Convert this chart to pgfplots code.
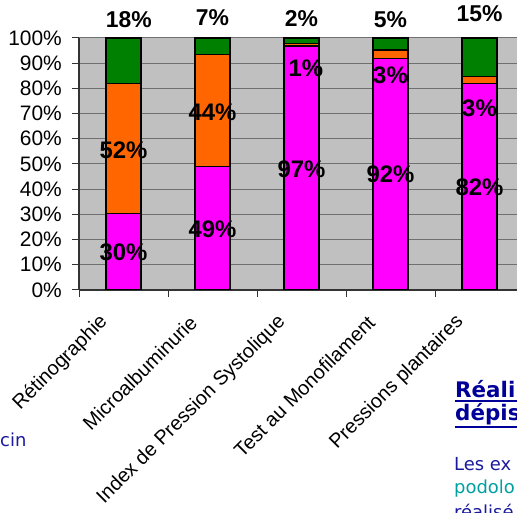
\documentclass[border=0pt]{standalone}
\usepackage{pgfplots}
\pgfplotsset{compat=1.18}
\usepackage{fontspec}
\setmainfont{Liberation Sans}
\newfontfamily\verd{DejaVu Sans}
\definecolor{bggray}{HTML}{C0C0C0}
\definecolor{gridgray}{HTML}{707070}
\definecolor{axisdark}{HTML}{333333}
\definecolor{mag}{HTML}{FF00FF}
\definecolor{orng}{HTML}{FF6600}
\definecolor{grn}{HTML}{008000}
\definecolor{navyA}{HTML}{000099}
\definecolor{navyB}{HTML}{1A1A9C}
\definecolor{tealA}{HTML}{00A0A0}
\pgfplotsset{chartgeom/.style={scale only axis, width=438bp, height=252bp,
  at={(79bp,223bp)}, anchor=south west, xmin=-0.5, xmax=4.4213, ymin=0, ymax=100,
  /pgf/number format/assume math mode=true}}
\begin{document}
\begin{tikzpicture}[x=1bp,y=1bp]
\path[use as bounding box] (0,0) rectangle (517,513);
\begin{axis}[chartgeom, ybar stacked, bar width=35bp,
  axis background/.style={fill=bggray},
  axis x line*=bottom, axis y line*=left,
  axis line style={draw=axisdark, line width=1.1bp},
  tick align=outside, major tick length=7bp,
  tick style={draw=axisdark, line width=1bp},
  ytick={0,10,...,100},
  yticklabel={\pgfmathprintnumber{\tick}\%},
  yticklabel style={font=\fontsize{21}{21}\selectfont, inner sep=0pt, xshift=-10bp, anchor=east},
  ymajorgrids, major grid style={draw=gridgray, line width=1bp},
  xtick={-0.5,0.5,1.5,2.5,3.5}, xticklabels={},
  extra x ticks={0,1,2,3,4},
  extra x tick labels={Rétinographie, Microalbuminurie, Index de Pression Systolique, Test au Monofilament, Pressions plantaires},
  extra x tick style={major tick length=0pt, grid=none,
    xticklabel style={font=\fontsize{20}{20}\selectfont, inner sep=0pt, xshift=-19bp, yshift=-29bp, rotate=45, anchor=east}},
  every axis plot/.append style={draw=black, line width=1.2bp},
]
\addplot[fill=mag] coordinates {(0,30.4) (1,49) (2,96.8) (3,92) (4,82)};
\addplot[fill=orng] coordinates {(0,51.6) (1,44.4) (2,1.1) (3,3.2) (4,2.7)};
\addplot[fill=grn] coordinates {(0,18) (1,6.6) (2,2.1) (3,4.8) (4,15.3)};
\end{axis}
\begin{axis}[chartgeom, hide axis, clip=false]
\addplot[draw=none, mark=none, nodes near coords={\pgfmathprintnumber{\pgfplotspointmeta}\%},
  point meta=explicit, nodes near coords align=center,
  every node near coord/.style={font=\fontsize{24}{24}\selectfont\bfseries, text=black, inner sep=0pt, anchor=center}]
  table[x=x, y=y, meta=v] {
x y v
0 15 30
0 55.6 52
1 24 49
1 70.5 44
2 48 97
2.05 88 1
3 46 92
3 85 3
4 40.7 82
4 72 3
};
\addplot[draw=none, mark=none, nodes near coords={\pgfmathprintnumber{\pgfplotspointmeta}\%},
  point meta=explicit, nodes near coords align=center,
  every node near coord/.style={font=\fontsize{23}{23}\selectfont\bfseries, text=black, inner sep=0pt, anchor=center}]
  table[x=x, y=y, meta=v] {
x y v
0.06 107.4 18
1 108 7
2 107.7 2
3 107.3 5
4 109.5 15
};
\end{axis}
\begin{scope}
\clip (0,0) rectangle (517,513);
\node[anchor=base west, inner sep=0pt, text=navyB, font=\verd\fontsize{18}{18}\selectfont] at (0,66) {cin};
\node[anchor=base west, inner sep=0pt, text=navyA, font=\verd\fontsize{21.5}{21.5}\selectfont\bfseries] at (455,115) {Réali};
\draw[navyA, line width=2bp] (455,112) -- (517,112);
\node[anchor=base west, inner sep=0pt, text=navyA, font=\verd\fontsize{21.5}{21.5}\selectfont\bfseries] at (455,92) {dépis};
\draw[navyA, line width=2bp] (455,86) -- (517,86);
\node[anchor=base west, inner sep=0pt, text=navyB, font=\verd\fontsize{18}{18}\selectfont] at (454,42) {Les ex};
\node[anchor=base west, inner sep=0pt, text=tealA, font=\verd\fontsize{18}{18}\selectfont] at (454,19) {podolo};
\node[anchor=base west, inner sep=0pt, text=navyB, font=\verd\fontsize{18}{18}\selectfont] at (454,-5) {réalisé};
\end{scope}
\end{tikzpicture}
\end{document}
